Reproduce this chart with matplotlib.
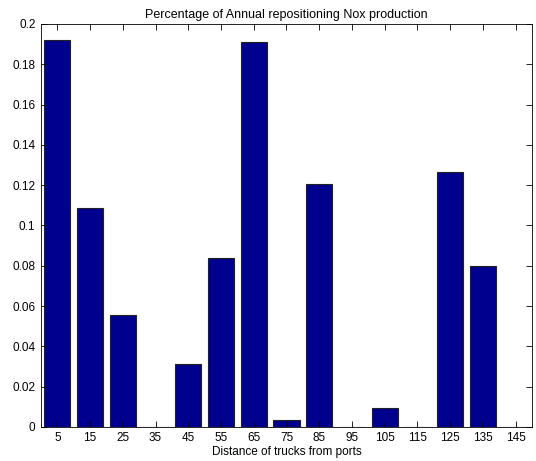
import numpy as np
import matplotlib
matplotlib.use("Agg")
from matplotlib import pyplot as plt

plt.rcParams['font.family'] = ['Liberation Sans', 'DejaVu Sans']

distances = [5, 15, 25, 35, 45, 55, 65, 75, 85, 95, 105, 115, 125, 135, 145]
nox_share = [0.192, 0.1086, 0.0555, 0.0, 0.0311, 0.0840, 0.1911, 0.0033,
             0.1204, 0.0, 0.0093, 0.0, 0.1266, 0.0800, 0.0]
yticks = [0, 0.02, 0.04, 0.06, 0.08, 0.1, 0.12, 0.14, 0.16, 0.18, 0.2]
ytick_labels = ['0', '0.02', '0.04', '0.06', '0.08', '0.1', '0.12', '0.14', '0.16', '0.18', '0.2']

fig = plt.figure(figsize=(5.36, 4.61), dpi=100)
ax = fig.add_axes([0.0765, 0.074, 0.916, 0.874])

ax.bar(distances, nox_share, width=8, color='#00008F', edgecolor='#222222', linewidth=0.8)

ax.set_xlim(0, 150)
ax.set_ylim(0, 0.2)
ax.set_xticks(distances)
ax.set_xticklabels([str(d) for d in distances])
ax.set_yticks(yticks)
ax.set_yticklabels(ytick_labels)
ax.tick_params(direction='in', top=True, right=True, labelsize=8.5, length=4, width=0.6, pad=4)
for s in ax.spines.values():
    s.set_linewidth(0.6)

ax.set_xlabel('Distance of trucks from ports', fontsize=8.5, labelpad=1)
ax.set_title('Percentage of Annual repositioning Nox production', fontsize=9, pad=4)

fig.savefig('out.png', dpi=100)
